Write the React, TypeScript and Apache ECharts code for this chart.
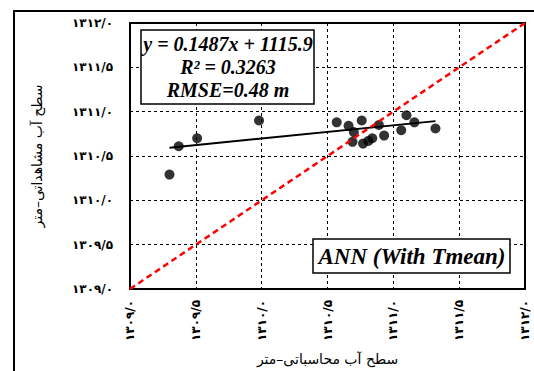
import React, { useEffect, useRef } from "react";
import * as echarts from "echarts";

// Computed (model) water level vs observed water level, metres
const xComputed = [1309.30, 1309.37, 1309.51, 1309.98, 1310.57, 1310.66, 1310.70, 1310.76, 1310.69, 1310.77, 1310.81, 1310.84, 1310.89, 1310.93, 1311.06, 1311.10, 1311.16, 1311.32];
const yObserved = [1310.29, 1310.61, 1310.70, 1310.90, 1310.88, 1310.84, 1310.77, 1310.90, 1310.66, 1310.64, 1310.67, 1310.70, 1310.85, 1310.73, 1310.79, 1310.96, 1310.88, 1310.81];

const slope = [0.1487];
const intercept = [1115.9];
const axisRange = [1309.0, 1312.0];
const tickStep = [0.5];

const eqLines = ["y = 0.1487x + 1115.9", "R² = 0.3263", "RMSE=0.48 m"];
const modelLabel = ["ANN (With Tmean)"];
const xTitle = ["سطح آب محاسباتی–متر"];
const yTitle = ["سطح آب مشاهداتی–متر"];

const faDigits = "۰۱۲۳۴۵۶۷۸۹";
const toFa = (v: number) =>
  v.toFixed(1).replace(".", "/").replace(/[0-9]/g, (d) => faDigits[+d]);

export default function App() {
  const ref = useRef<HTMLDivElement>(null);
  useEffect(() => {
    if (!ref.current) return;
    const chart = echarts.init(ref.current, null, { renderer: "svg" });
    const pts = xComputed.map((x, i) => [x, yObserved[i]]);
    const xMin = Math.min(...xComputed);
    const xMax = Math.max(...xComputed);
    const reg = [xMin, xMax].map((x) => [x, slope[0] * x + intercept[0]]);
    const oneToOne = [
      [axisRange[0], axisRange[0]],
      [axisRange[1], axisRange[1]],
    ];
    const serif = "'Liberation Serif', 'Times New Roman', serif";
    const fa = "'DejaVu Sans', sans-serif";
    const textStyle = {
      fontFamily: serif,
      fontWeight: "bold",
      fontStyle: "italic",
      fill: "#000",
      align: "center",
      verticalAlign: "middle",
    };
    chart.setOption({
      animation: false,
      backgroundColor: "#fff",
      grid: {
        left: 130,
        top: 23,
        right: 9,
        bottom: 81,
        show: true,
        borderColor: "#000",
        borderWidth: 2,
        backgroundColor: "transparent",
      },
      xAxis: {
        type: "value",
        min: axisRange[0],
        max: axisRange[1],
        interval: tickStep[0],
        name: xTitle[0],
        nameLocation: "middle",
        nameGap: 63,
        nameTextStyle: { fontFamily: fa, fontSize: 14, color: "#000" },
        axisLine: { show: true, onZero: false, lineStyle: { color: "#000", width: 2 } },
        axisTick: { show: false },
        axisLabel: {
          rotate: 90,
          margin: 11,
          formatter: (v: number) => toFa(v),
          fontFamily: fa,
          fontWeight: "bold",
          fontSize: 12,
          color: "#000",
        },
        splitLine: { show: true, lineStyle: { color: "#000", type: [3, 3], width: 1 } },
      },
      yAxis: {
        type: "value",
        min: axisRange[0],
        max: axisRange[1],
        interval: tickStep[0],
        name: yTitle[0],
        nameLocation: "middle",
        nameGap: 86,
        nameTextStyle: { fontFamily: fa, fontSize: 14, color: "#000" },
        axisLine: { show: true, onZero: false, lineStyle: { color: "#000", width: 2 } },
        axisTick: { show: false },
        axisLabel: {
          margin: 17,
          formatter: (v: number) => toFa(v),
          fontFamily: fa,
          fontWeight: "bold",
          fontSize: 12,
          color: "#000",
        },
        splitLine: { show: true, lineStyle: { color: "#000", type: [3, 3], width: 1 } },
      },
      series: [
        {
          type: "scatter",
          data: pts,
          symbol: "circle",
          symbolSize: 10,
          itemStyle: { color: "#000" },
          z: 3,
        },
        {
          type: "line",
          data: reg,
          symbol: "none",
          lineStyle: { color: "#000", width: 2 },
          z: 4,
        },
        {
          type: "line",
          data: oneToOne,
          symbol: "none",
          lineStyle: { color: "#ff0000", width: 2.5, type: [6, 4] },
          z: 5,
        },
      ],
      graphic: [
        {
          type: "rect",
          shape: { x: 14, y: 11, width: 600, height: 400 },
          style: { fill: "none", stroke: "#000", lineWidth: 2 },
          silent: true,
          z: 100,
        },
        {
          type: "rect",
          z: 100,
          shape: { x: 141, y: 30, width: 173, height: 74 },
          style: { fill: "#fff", stroke: "#000", lineWidth: 1.5 },
        },
        ...eqLines.map((t, i) => ({
          type: "text",
          z: 101,
          x: 228,
          y: 44 + i * 23,
          style: { ...textStyle, text: t, fontSize: 20 },
        })),
        {
          type: "rect",
          z: 100,
          shape: { x: 313, y: 239, width: 197, height: 34 },
          style: { fill: "#fff", stroke: "#000", lineWidth: 1.5 },
        },
        {
          type: "text",
          z: 101,
          x: 412,
          y: 256,
          style: { ...textStyle, text: modelLabel[0], fontSize: 23 },
        },
      ],
    });
    return () => chart.dispose();
  }, []);
  return (
    <div
      ref={ref}
      style={{ position: "fixed", left: 0, top: 0, width: 534, height: 371, background: "#fff" }}
    />
  );
}
